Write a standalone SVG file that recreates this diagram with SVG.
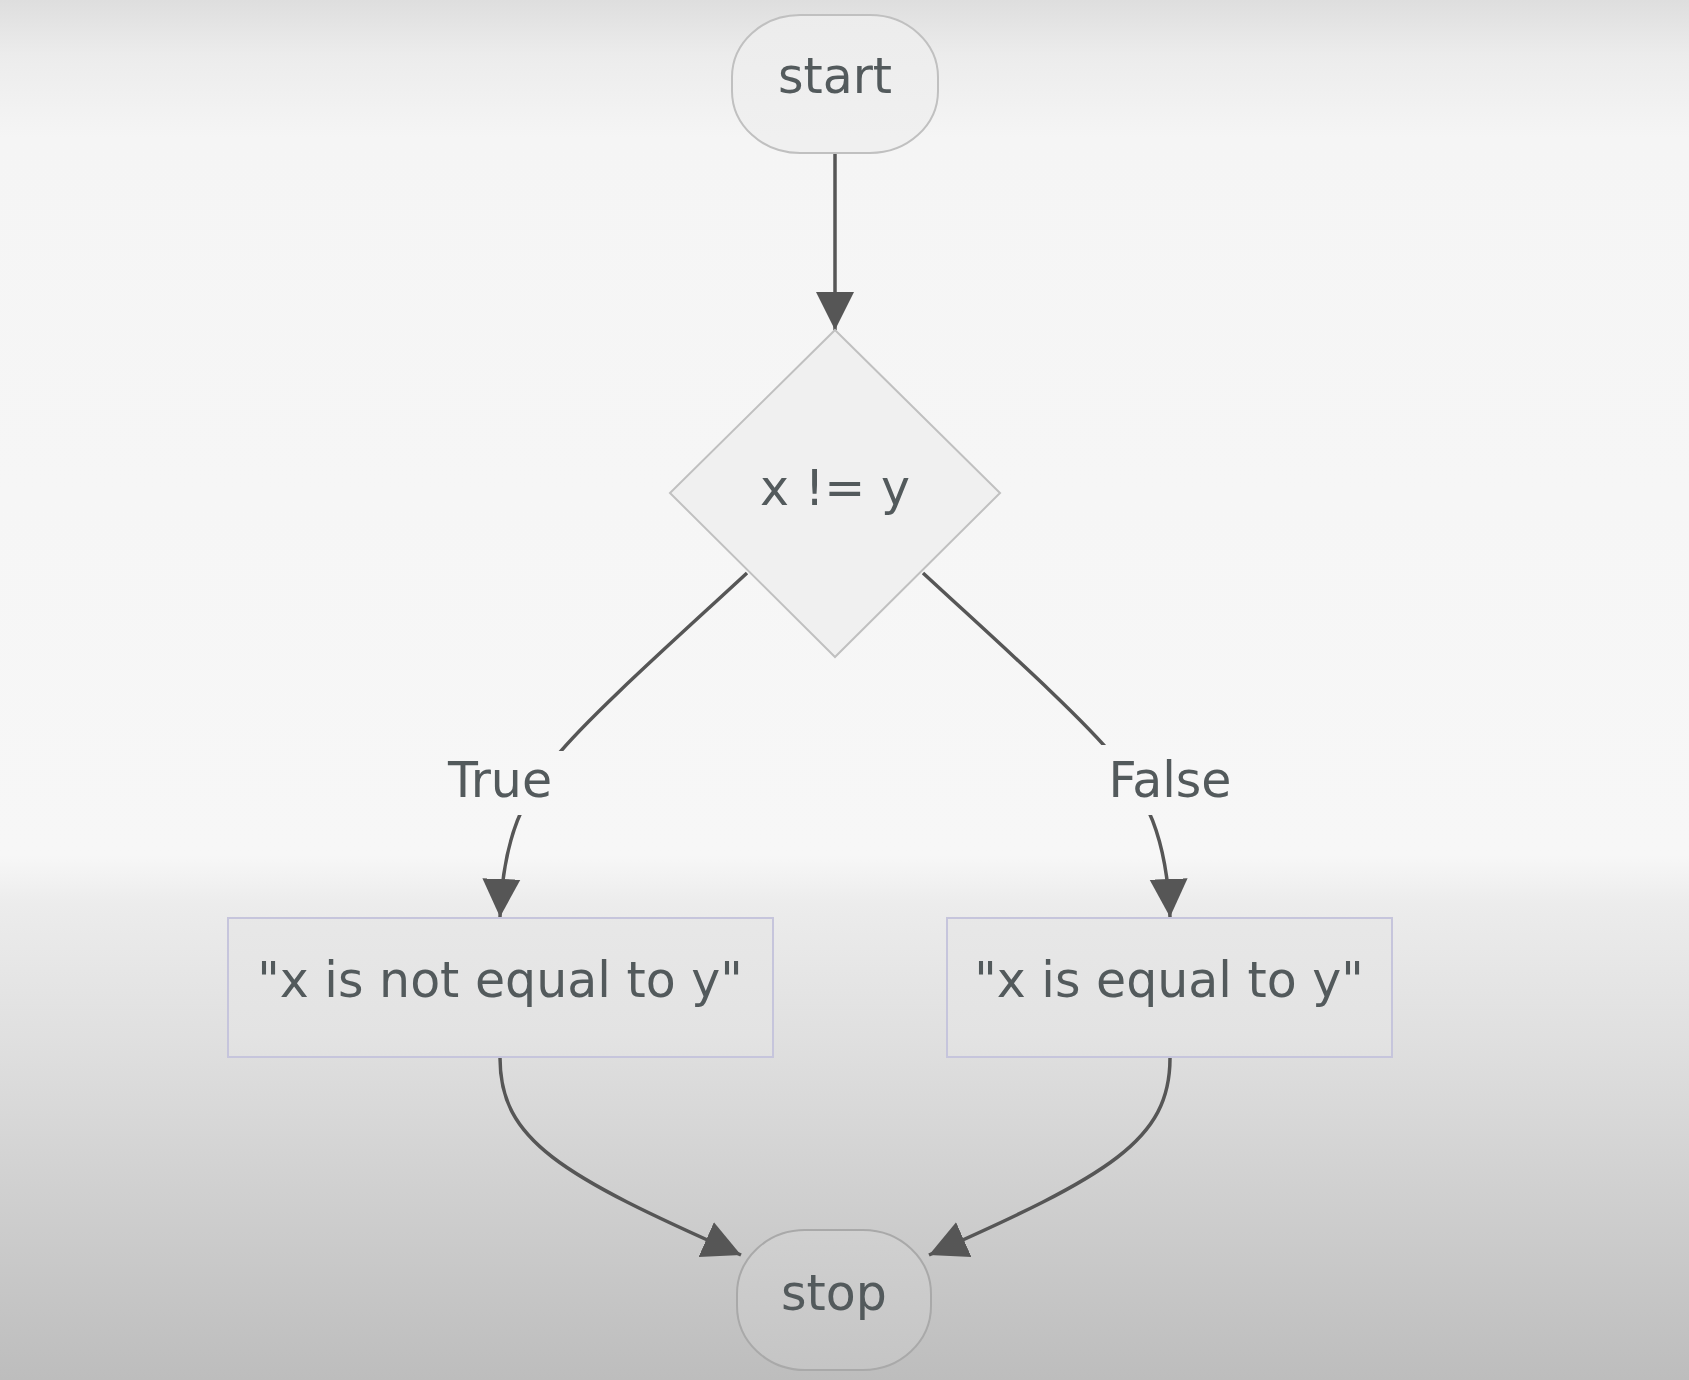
<svg xmlns="http://www.w3.org/2000/svg" width="1689" height="1380" viewBox="0 0 1689 1380">
  <defs>
    <linearGradient id="bg" gradientUnits="userSpaceOnUse" x1="0" y1="0" x2="0" y2="1380">
      <stop offset="0" stop-color="#dedede"/>
      <stop offset="0.04" stop-color="#ececec"/>
      <stop offset="0.1" stop-color="#f5f5f5"/>
      <stop offset="0.62" stop-color="#f7f7f7"/>
      <stop offset="0.655" stop-color="#ececec"/>
      <stop offset="0.75" stop-color="#e0e0e0"/>
      <stop offset="0.87" stop-color="#cfcfcf"/>
      <stop offset="1" stop-color="#bdbdbd"/>
    </linearGradient>
    <linearGradient id="nodeFill" gradientUnits="userSpaceOnUse" x1="0" y1="0" x2="0" y2="1380">
      <stop offset="0" stop-color="#ececec"/>
      <stop offset="0.1" stop-color="#f0f0f0"/>
      <stop offset="0.62" stop-color="#f0f0f0"/>
      <stop offset="0.655" stop-color="#e8e8e8"/>
      <stop offset="0.75" stop-color="#e3e3e3"/>
      <stop offset="0.87" stop-color="#d3d3d3"/>
      <stop offset="1" stop-color="#c4c4c4"/>
    </linearGradient>
    <marker id="arrow" markerUnits="userSpaceOnUse" markerWidth="38" markerHeight="42" viewBox="0 0 10 10" refX="10" refY="5" orient="auto">
      <path d="M0,0 L10,5 L0,10 z" fill="#565656"/>
    </marker>
  </defs>
  <style>
    .node { fill: url(#nodeFill); stroke: #c0c0c0; stroke-width: 2; }
    .box { fill: url(#nodeFill); stroke: #c6c5dc; stroke-width: 2; }
    .edge { fill: none; stroke: #565656; stroke-width: 3.5; marker-end: url(#arrow); }
    .lbl { font-family: "DejaVu Sans", "Liberation Sans", sans-serif; font-size: 49px; fill: #535a5c; text-anchor: middle; }
    .lblbg { fill: url(#bg); stroke: none; }
  </style>

  <rect x="0" y="0" width="1689" height="1380" fill="url(#bg)"/>

  <g id="connectors">
    <path class="edge" d="M835,153 L835,330"/>
    <path class="edge" d="M747,573 C680,635 590,715 555,758 C525,795 503,835 500,917"/>
    <path class="edge" d="M923,573 C990,635 1080,715 1115,758 C1145,795 1167,835 1170,917"/>
    <path class="edge" d="M500,1058 C500,1140 560,1175 741,1255"/>
    <path class="edge" d="M1170,1058 C1170,1140 1110,1175 929,1255"/>
    <g id="label-true">
      <rect class="lblbg" x="444" y="751" width="121" height="64"/>
      <text class="lbl" x="500" y="797">True</text>
    </g>
    <g id="label-false">
      <rect class="lblbg" x="1100" y="745" width="142" height="70"/>
      <text class="lbl" x="1170" y="797">False</text>
    </g>
  </g>

  <g id="start">
    <rect class="node" x="732" y="15" width="206" height="138" rx="68" ry="62"/>
    <text class="lbl" x="835" y="93">start</text>
  </g>

  <g id="decision">
    <polygon class="node" points="835,330 1000,493 835,657 670,493"/>
    <text class="lbl" x="835" y="505">x != y</text>
  </g>

  <g id="not-equal">
    <rect class="box" x="228" y="918" width="545" height="139"/>
    <text class="lbl" x="500" y="997">"x is not equal to y"</text>
  </g>

  <g id="equal">
    <rect class="box" x="947" y="918" width="445" height="139"/>
    <text class="lbl" x="1169" y="997">"x is equal to y"</text>
  </g>

  <g id="stop">
    <rect class="node" x="737" y="1230" width="194" height="140" rx="68" ry="64" style="stroke:#a9a9a9"/>
    <text class="lbl" x="834" y="1310">stop</text>
  </g>
</svg>
